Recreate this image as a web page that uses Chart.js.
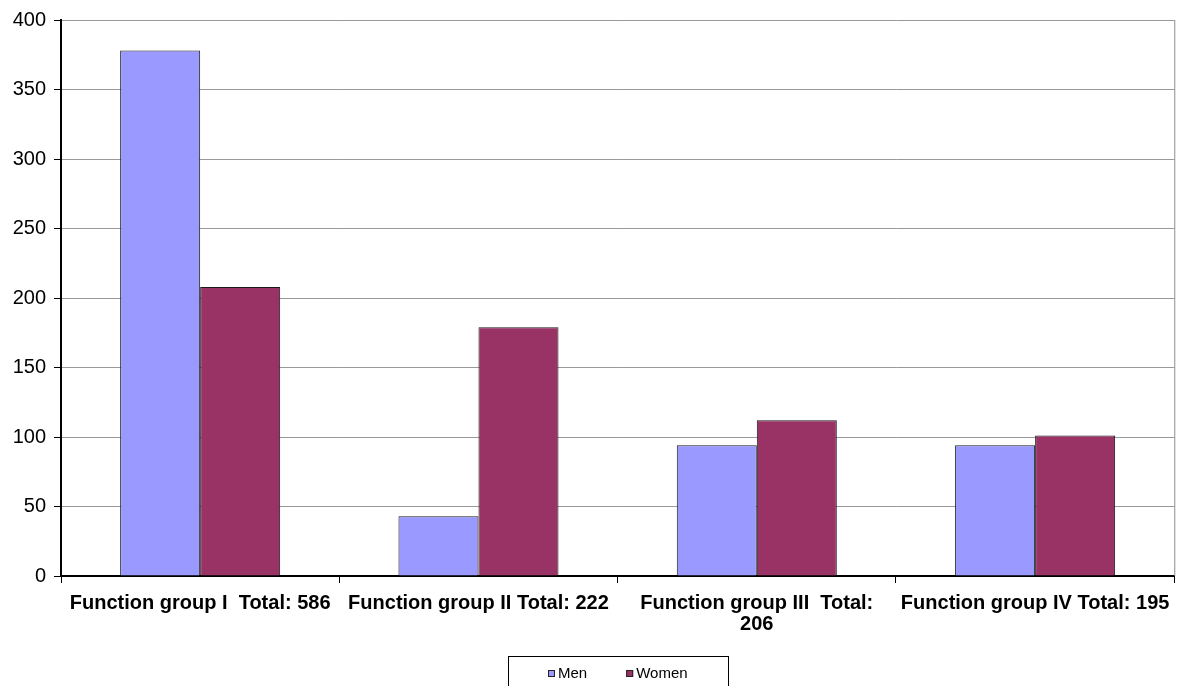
<!DOCTYPE html>
<html>
<head>
<meta charset="utf-8">
<script src="https://cdn.jsdelivr.net/npm/chart.js@4"></script>
<style>
  html, body { margin: 0; padding: 0; background: #fff; }
  #wrap { width: 1180px; height: 686px; position: relative; }
</style>
</head>
<body>
<div id="wrap"><canvas id="c" width="1180" height="686"></canvas></div>
<script>
// Staff counts by function group and gender
const categories = [
  "Function group I  Total: 586",
  "Function group II Total: 222",
  ["Function group III  Total:", "206"],
  "Function group IV Total: 195"
];
const menValues = [378, 43, 94, 94];
const womenValues = [208, 179, 112, 101];
const seriesNames = ["Men", "Women"];
const seriesColors = ["#9999FF", "#993366"];
const yTicks = { min: 0, max: 400, step: 50 };

const FONT = "'Liberation Sans', Arial, sans-serif";

// Gray frame on the right edge of the plot, and a boxed legend centred under the plot
const framePlugin = {
  id: 'frame',
  afterDraw(chart) {
    const { ctx, chartArea: a } = chart;
    ctx.save();
    ctx.strokeStyle = '#8c8c8c';
    ctx.lineWidth = 1;
    ctx.beginPath();
    ctx.moveTo(a.right + 0.5, a.top);
    ctx.lineTo(a.right + 0.5, a.bottom);
    ctx.stroke();

    // legend
    const cx = (a.left + a.right) / 2;
    const boxW = 220, boxTop = a.bottom + 80;
    ctx.strokeStyle = '#000';
    ctx.strokeRect(Math.round(cx - boxW / 2) + 0.5, boxTop + 0.5, boxW, 60);

    ctx.font = '15px ' + FONT;
    ctx.textBaseline = 'middle';
    const marker = 7, markerGap = 3, itemGap = 39;
    const items = chart.data.datasets.map(d => ({
      label: d.label, color: d.backgroundColor,
      w: marker + markerGap + ctx.measureText(d.label).width
    }));
    const total = items.reduce((s, it) => s + it.w, 0) + itemGap * (items.length - 1);
    let x = Math.round(cx - total / 2);
    const y = boxTop + 18;
    items.forEach(it => {
      ctx.fillStyle = it.color;
      ctx.fillRect(x, y - 4, marker, marker);
      ctx.strokeStyle = '#222';
      ctx.strokeRect(x + 0.5, y - 3.5, marker - 1, marker - 1);
      ctx.fillStyle = '#000';
      ctx.fillText(it.label, x + marker + markerGap, y);
      x += it.w + itemGap;
    });
    ctx.restore();
  }
};

new Chart(document.getElementById('c'), {
  type: 'bar',
  data: {
    labels: categories,
    datasets: [
      { label: seriesNames[0], data: menValues, backgroundColor: seriesColors[0], borderColor: '#1a1a1a', borderWidth: 1 },
      { label: seriesNames[1], data: womenValues, backgroundColor: seriesColors[1], borderColor: '#1a1a1a', borderWidth: 1 }
    ]
  },
  options: {
    responsive: false,
    animation: false,
    devicePixelRatio: 1,
    layout: { padding: { top: 19, right: 5, left: 0, bottom: 30 } },
    datasets: { bar: { categoryPercentage: 0.575, barPercentage: 1.0 } },
    plugins: {
      tooltip: { enabled: false },
      legend: { display: false }
    },
    scales: {
      x: {
        afterFit(scale) { scale.height = 80; },
        grid: { display: true, offset: true, drawOnChartArea: false, tickLength: 7, tickColor: '#000' },
        border: { color: '#000', width: 2 },
        ticks: {
          autoSkip: false, maxRotation: 0, minRotation: 0, padding: 10,
          color: '#000', font: { family: FONT, size: 20, weight: 'bold', lineHeight: 1.05 }
        }
      },
      y: {
        min: yTicks.min, max: yTicks.max,
        afterFit(scale) { scale.width = 61; },
        grid: { color: '#999', lineWidth: 1, tickLength: 7, tickColor: '#000' },
        border: { color: '#000', width: 2 },
        ticks: {
          stepSize: yTicks.step, padding: 8,
          color: '#000', font: { family: FONT, size: 20 }
        }
      }
    }
  },
  plugins: [framePlugin]
});
</script>
</body>
</html>
